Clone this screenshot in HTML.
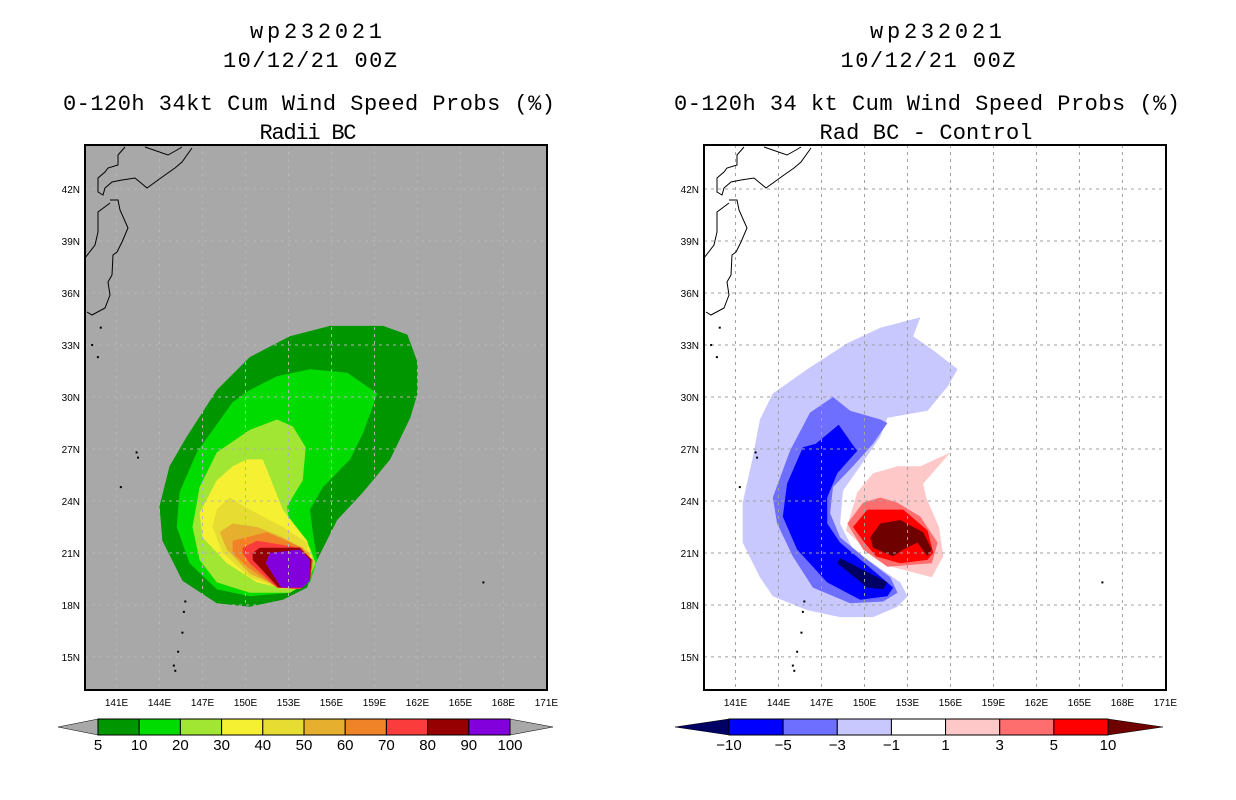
<!DOCTYPE html>
<html><head><meta charset="utf-8"><style>
html,body{margin:0;padding:0;background:#fff;}
svg{display:block;font-family:"Liberation Sans",sans-serif;}
</style></head><body>
<svg id="fig" width="1236" height="800" viewBox="0 0 1236 800">
<g id="titles" fill="#000" font-size="22" text-anchor="middle" style="font-family:'Liberation Mono',monospace">
 <text x="316" y="38" textLength="132">wp232021</text>
 <text x="310" y="67" textLength="174">10/12/21 00Z</text>
 <text x="309" y="110" textLength="492">0-120h 34kt Cum Wind Speed Probs (%)</text>
 <text x="308" y="139" textLength="97">Radii BC</text>
 <text x="936" y="38" textLength="132">wp232021</text>
 <text x="928" y="67" textLength="175">10/12/21 00Z</text>
 <text x="927" y="110" textLength="506">0-120h 34 kt Cum Wind Speed Probs (%)</text>
 <text x="926" y="139" textLength="213">Rad BC - Control</text>
</g>
<g id="left-map"></g>
<g id="right-map"></g>
<g id="left-cbar"></g>
<g id="right-cbar"></g>
</svg>
<script>
// ---- data ----
const lonTicks = [141,144,147,150,153,156,159,162,165,168,171];
const latTicks = [15,18,21,24,27,30,33,36,39,42];
const probLevels = ["5","10","20","30","40","50","60","70","80","90","100"];
const probColors = ["#009600","#00dc00","#a0e632","#f5f032","#e6dc32","#e6af2d","#f08228","#fa3c3c","#960000","#8200dc"];
const diffLevels = ["-10","-5","-3","-1","1","3","5","10"];
const diffColors = ["#0000ff","#6e6eff","#c8c8ff","#ffffff","#ffc8c8","#ff6e6e","#ff0000"];
const diffLow = "#000064", diffHigh = "#6e0000";

// contour polygons as [lon,lat] pairs
const prob5 = [[155.9,34.1],[159.6,34.1],[161.3,33.6],[162.0,32.0],[162.0,30.2],[161.5,28.8],[160.1,26.4],[158.2,24.5],[156.4,22.9],[155.0,20.6],[154.3,19.0],[152.6,18.3],[150.3,17.9],[148.0,18.1],[145.6,19.4],[144.2,21.7],[144.0,23.7],[144.7,26.0],[145.9,27.7],[148.0,30.4],[150.3,32.3],[153.1,33.5]];
const prob10 = [[152.2,31.2],[154.5,31.6],[157.1,31.4],[159.2,30.2],[158.2,27.9],[157.3,26.4],[155.4,24.8],[154.5,23.5],[154.7,22.2],[155.0,20.6],[154.5,19.3],[153.1,18.7],[150.3,18.5],[148.0,18.9],[146.1,20.4],[145.2,22.5],[145.4,24.5],[146.6,26.8],[149.1,29.7],[150.3,30.4]];
const prob20 = [[152.2,28.7],[153.3,28.3],[154.2,27.1],[154.0,25.2],[152.9,23.7],[153.1,22.5],[154.5,21.3],[154.9,20.4],[154.3,19.3],[153.1,18.7],[150.3,18.7],[148.0,19.3],[146.8,20.6],[146.3,22.5],[146.8,24.8],[148.0,26.8],[150.3,28.1]];
const prob30 = [[150.1,26.4],[151.2,26.4],[151.5,25.8],[152.6,23.5],[154.3,21.7],[154.7,20.6],[154.3,19.3],[152.9,18.9],[150.8,19.3],[148.7,20.4],[147.0,21.9],[146.8,23.3],[148.0,25.2],[149.1,26.0]];
const prob40 = [[148.9,24.2],[150.3,23.5],[152.6,22.5],[154.3,21.6],[154.5,19.4],[152.6,18.9],[150.3,19.6],[148.4,21.0],[147.7,22.5],[148.0,23.5]];
const prob50 = [[149.1,22.7],[150.8,22.5],[152.6,21.9],[154.5,21.0],[154.3,19.3],[152.4,19.0],[150.3,19.8],[148.7,21.2],[148.2,22.2]];
const prob60 = [[149.1,21.7],[151.5,22.2],[154.0,21.3],[154.7,20.2],[154.0,19.0],[152.2,19.0],[150.1,20.2],[149.1,21.0]];
const prob70 = [[149.8,21.3],[150.8,21.7],[153.8,21.3],[154.7,20.6],[154.5,19.4],[153.8,18.9],[152.2,19.0],[150.3,20.4],[149.8,21.0]];
const prob80 = [[150.5,21.0],[151.0,21.3],[153.8,21.3],[154.6,20.6],[154.5,19.4],[154.0,19.0],[152.3,19.0],[150.5,20.6]];
const prob90 = [[151.4,20.4],[151.7,21.0],[153.8,21.2],[154.5,20.6],[154.5,19.4],[154.0,19.0],[152.5,19.0]];

const diffNeg1 = [[153.9,34.6],[153.4,33.5],[154.8,32.7],[156.5,31.6],[155.8,30.6],[154.4,29.2],[151.6,28.8],[151.1,27.7],[149.7,26.0],[148.5,24.6],[148.3,22.7],[149.2,21.2],[152.5,19.3],[153.0,18.5],[152.3,17.9],[150.6,17.3],[148.3,17.3],[146.0,17.7],[143.6,18.5],[142.7,19.6],[141.5,21.6],[141.5,23.9],[142.2,26.5],[142.7,28.7],[143.6,30.2],[146.0,31.6],[148.8,33.1],[151.1,34.0]];
const diffNeg3 = [[147.8,30.0],[149.0,29.2],[151.1,28.7],[151.6,28.5],[150.6,27.3],[149.2,26.0],[147.8,24.8],[147.6,23.3],[148.3,21.9],[150.2,20.6],[151.8,19.6],[152.3,18.7],[151.3,18.2],[149.0,18.1],[146.4,19.0],[145.0,20.8],[143.9,22.7],[143.6,24.2],[144.8,26.9],[146.2,29.1]];
const diffNeg5 = [[148.2,28.4],[149.3,27.1],[149.5,26.9],[148.1,25.6],[147.4,24.2],[147.4,22.7],[148.3,21.6],[150.6,20.0],[152.0,19.0],[151.6,18.5],[149.7,18.3],[147.4,19.3],[145.3,21.2],[144.3,23.1],[144.6,25.0],[145.7,27.1],[146.6,27.3]];
const diffNeg10 = [[148.3,20.7],[151.6,19.3],[151.3,18.9],[150.2,19.0],[148.1,20.4]];
const diffPos1 = [[149.5,24.5],[150.6,25.6],[152.3,26.0],[153.9,26.0],[156.0,26.8],[154.1,25.0],[154.3,24.2],[155.2,22.5],[155.5,20.8],[154.7,19.6],[151.9,20.2],[150.1,21.2],[148.7,22.3]];
const diffPos3 = [[148.8,22.7],[149.9,23.9],[151.1,24.2],[152.3,23.9],[153.9,23.1],[155.1,21.6],[154.7,20.4],[151.6,20.2],[149.9,21.2]];
const diffPos5 = [[149.2,22.5],[150.2,23.5],[152.7,23.5],[154.4,22.3],[154.8,21.0],[154.4,20.6],[152.5,20.4],[150.8,20.8],[149.9,21.7]];
const diffPos10 = [[150.4,21.9],[151.1,22.7],[152.5,22.9],[154.1,22.2],[154.7,21.2],[154.4,20.8],[153.7,21.6],[152.7,21.2],[152.0,20.8],[150.6,21.3]];

// ---- geometry ----
const MAP_W = 462, MAP_H = 545, MAP_Y = 145;
const LON0 = 138.8, LAT_TOP = 44.54, PX_LON = 14.33, PX_LAT = 17.33;
const NS = "http://www.w3.org/2000/svg";
function mk(tag, attrs, parent){const e=document.createElementNS(NS,tag);for(const k in attrs)e.setAttribute(k,attrs[k]);parent.appendChild(e);return e;}
function xs(x0, lon){return x0 + (lon-LON0)*PX_LON;}
function ys(lat){return MAP_Y + (LAT_TOP-lat)*PX_LAT;}
function poly(x0, pts){return pts.map(p=>xs(x0,p[0]).toFixed(1)+","+ys(p[1]).toFixed(1)).join(" ");}

const coastD = "M40,2 L33,10 L33,20 L23,23 L20,27 L13,33 L13,47 L18,50 L20,43 L27,37 L37,35 L50,33 L62,43 L80,30 L90,23 L97,17 L107,3 M60,2 L83,10 L92,5 L97,2 M25,55 L33,55 L35,65 L43,83 L37,97 L32,107 L28,110 L27,130 L23,137 L25,150 L20,163 L7,170 L2,167 M25,58 L13,67 L13,87 L10,100 L0,113";

function drawMap(gid, x0, bg, fills, gridColor, gridOnTop, prefix){
  const g = document.getElementById(gid);
  const clipId = prefix+"-clip";
  const defs = mk("defs",{},g);
  const cp = mk("clipPath",{id:clipId},defs);
  mk("rect",{x:x0,y:MAP_Y,width:MAP_W,height:MAP_H},cp);
  const bgr = mk("rect",{x:x0,y:MAP_Y,width:MAP_W,height:MAP_H,fill:bg},g);
  
  
  const inner = mk("g",{"clip-path":"url(#"+clipId+")"},g);
  const gridG = document.createElementNS(NS,"g");
  function drawGrid(){
    inner.appendChild(gridG);
    lonTicks.slice(0,-1).forEach(lon=>{
      const l = mk("line",{x1:xs(x0,lon),x2:xs(x0,lon),y1:MAP_Y,y2:MAP_Y+MAP_H,stroke:gridColor,"stroke-width":1,"stroke-dasharray":"3,4"},gridG);
      
      
    });
    latTicks.forEach(lat=>{
      const l = mk("line",{x1:x0,x2:x0+MAP_W,y1:ys(lat),y2:ys(lat),stroke:gridColor,"stroke-width":1,"stroke-dasharray":"3,4"},gridG);
      
      
    });
  }
  if(!gridOnTop) drawGrid();
  fills.forEach(f=>{
    const p = mk("polygon",{points:poly(x0,f.pts),fill:f.color},inner);
    
    
  });
  if(gridOnTop) drawGrid();
  const coast = mk("path",{d:coastD,fill:"none",stroke:"#000","stroke-width":1,transform:"translate("+x0+","+MAP_Y+")"},inner);
  
  
  [[142.4,26.8],[142.5,26.5],[141.3,24.8],[145.8,18.2],[145.7,17.6],[145.6,16.4],[145.3,15.3],[145.0,14.5],[145.1,14.2],[166.6,19.3],[139.3,33.0],[139.7,32.3],[139.9,34.0]].forEach(d=>{
    const r = mk("rect",{x:xs(x0,d[0])-1,y:ys(d[1])-1,width:2,height:2,fill:"#000"},inner);
    
    
  });
  const frame = mk("rect",{x:x0,y:MAP_Y,width:MAP_W,height:MAP_H,fill:"none",stroke:"#000","stroke-width":2},g);
  
  
  lonTicks.forEach(lon=>{
    const t = mk("text",{x:xs(x0,lon),y:MAP_Y+MAP_H+16,"font-size":"10","text-anchor":"middle"},g);
    t.textContent = lon+"E";
    
    
  });
  latTicks.forEach(lat=>{
    const t = mk("text",{x:x0-5,y:ys(lat)+4,"font-size":"10","text-anchor":"end"},g);
    t.textContent = lat+"N";
    
    
  });
}

drawMap("left-map", 85, "#a8a8a8", [
  {pts:prob5,color:probColors[0],name:"prob-5-contour"},
  {pts:prob10,color:probColors[1],name:"prob-10-contour"},
  {pts:prob20,color:probColors[2],name:"prob-20-contour"},
  {pts:prob30,color:probColors[3],name:"prob-30-contour"},
  {pts:prob40,color:probColors[4],name:"prob-40-contour"},
  {pts:prob50,color:probColors[5],name:"prob-50-contour"},
  {pts:prob60,color:probColors[6],name:"prob-60-contour"},
  {pts:prob70,color:probColors[7],name:"prob-70-contour"},
  {pts:prob80,color:probColors[8],name:"prob-80-contour"},
  {pts:prob90,color:probColors[9],name:"prob-90-contour"}
], "#b4b4b4", true, "left");

drawMap("right-map", 704, "#ffffff", [
  {pts:diffNeg1,color:diffColors[2],name:"diff-neg1-contour"},
  {pts:diffNeg3,color:diffColors[1],name:"diff-neg3-contour"},
  {pts:diffNeg5,color:diffColors[0],name:"diff-neg5-contour"},
  {pts:diffNeg10,color:diffLow,name:"diff-neg10-contour"},
  {pts:diffPos1,color:diffColors[4],name:"diff-pos1-contour"},
  {pts:diffPos3,color:diffColors[5],name:"diff-pos3-contour"},
  {pts:diffPos5,color:diffColors[6],name:"diff-pos5-contour"},
  {pts:diffPos10,color:diffHigh,name:"diff-pos10-contour"}
], "#a0a0a0", true, "right");

// ---- colorbars ----
function drawCbar(gid, xL, xR, tipL, tipR, colors, lowC, highC, labels, prefix){
  const g = document.getElementById(gid);
  const y0=719, h=16, n=colors.length, w=(xR-xL)/n;
  const lt = mk("polygon",{points:tipL+","+(y0+h/2)+" "+xL+","+y0+" "+xL+","+(y0+h),fill:lowC,stroke:"#000","stroke-width":0.5},g);
  
  
  const rt = mk("polygon",{points:tipR+","+(y0+h/2)+" "+xR+","+y0+" "+xR+","+(y0+h),fill:highC,stroke:"#000","stroke-width":0.5},g);
  
  
  colors.forEach((c,i)=>{
    const r = mk("rect",{x:xL+i*w,y:y0,width:w,height:h,fill:c,stroke:"#000","stroke-width":1},g);
    
    
  });
  labels.forEach((l,i)=>{
    const t = mk("text",{x:xL+i*w,y:y0+h+15,"font-size":"15","text-anchor":"middle"},g);
    t.textContent = l.replace("-","\u2212");
    
    
  });
}
drawCbar("left-cbar", 98, 510, 58, 553, probColors, "#a8a8a8", "#a8a8a8", probLevels, "left");
drawCbar("right-cbar", 729, 1108, 675, 1163, diffColors, diffLow, diffHigh, diffLevels, "right");
</script>
</body></html>
